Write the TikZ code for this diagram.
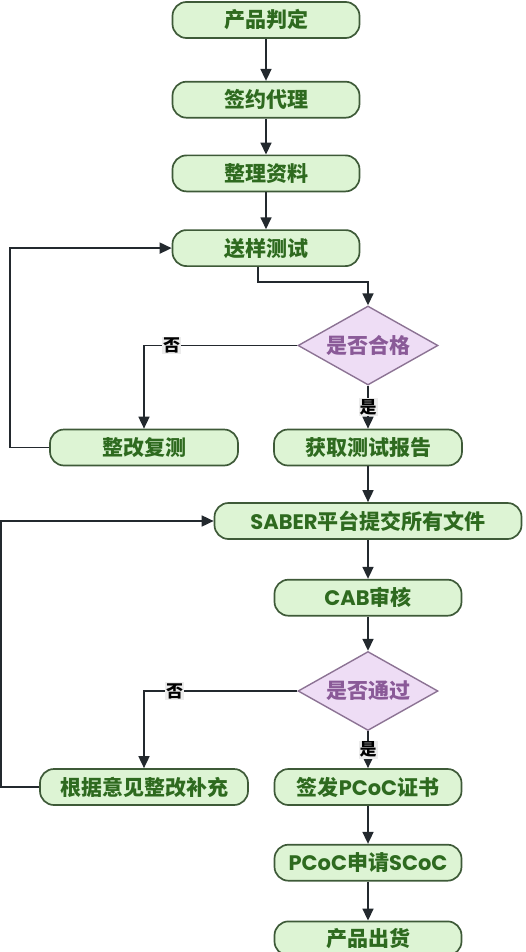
\documentclass[tikz,border=0pt]{standalone}
\usepackage{fontspec}
\usepackage{xcolor}
\usepackage{tikz}
\usetikzlibrary{positioning}
\usetikzlibrary{shapes.geometric}
\usetikzlibrary{arrows.meta}

\newfontfamily\cjk{Noto Sans CJK SC}
\newfontfamily\lat{Poppins}

\definecolor{boxfill}{HTML}{DDF4D4}
\definecolor{boxline}{HTML}{3E5A38}
\definecolor{boxtext}{HTML}{2E6A1F}
\definecolor{decfill}{HTML}{EEDDF5}
\definecolor{decline}{HTML}{8C7394}
\definecolor{dectext}{HTML}{8A5A98}
\definecolor{arrline}{HTML}{23292E}
\definecolor{tagfill}{HTML}{ECECEC}

\tikzset{
    stepbox/.style={draw=boxline, line width=1.7pt, fill=boxfill, rounded corners=14pt,
        minimum width=187pt, minimum height=36pt, inner sep=0pt,
        font=\cjk\bfseries\fontsize{21}{21}\selectfont, text=boxtext},
    decbox/.style={draw=decline, line width=1.4pt, fill=decfill, diamond, aspect=1.77,
        minimum width=140pt, minimum height=79pt, inner sep=0pt,
        font=\cjk\bfseries\fontsize{21}{21}\selectfont, text=dectext},
    arr/.style={->, draw=arrline, line width=1.7pt},
    tag/.style={fill=tagfill, inner sep=1pt, text=black,
        font=\cjk\bfseries\fontsize{17}{17}\selectfont}
}

\begin{document}
\begin{tikzpicture}[x=1pt, y=-1pt, >={Triangle[length=12pt,width=11pt]}]
        \useasboundingbox (0,0) rectangle (526,952);

        % 前期准备
        \node[stepbox] (prod) at (266,20) {产品判定};
        \node[stepbox, below=42pt of prod] (sign) {签约代理};
        \node[stepbox, below=36pt of sign] (data) {整理资料};
        \node[stepbox, below=37pt of data] (test) {送样测试};

        % 测试判定
        \node[decbox] (chk1) at (368,345.5) {是否合格};
        \node[stepbox, minimum width=188pt] (fix1) at (144,447.5) {整改复测};
        \node[stepbox, minimum width=188pt] (report) at (368,447.5) {获取测试报告};

        % 平台审核
        \node[stepbox, minimum width=307pt] (saber) at (368,521) {{\lat\bfseries SABER}平台提交所有文件};
        \node[stepbox, below=39pt of saber] (cab) {{\lat\bfseries CAB}审核};
        \node[decbox] (chk2) at (368,691) {是否通过};
        \node[stepbox, minimum width=208pt] (fix2) at (144,787) {根据意见整改补充};
        \node[stepbox] (cert) at (368,787) {签发{\lat\bfseries PCoC}证书};
        \node[stepbox, below=38pt of cert] (scoc) {{\lat\bfseries PCoC}申请{\lat\bfseries SCoC}};
        \node[stepbox, below=39pt of scoc, minimum height=34pt] (ship) {产品出货};

        % 主流程箭头
        \draw[arr] (prod) -- (sign);
        \draw[arr] (sign) -- (data);
        \draw[arr] (data) -- (test);
        \draw[arr] ([xshift=-8pt]test.south) |- (300,282) -| (chk1.north);

        % 合格判定分支
        \draw[arr] (chk1.west) -| node[tag, pos=0.41] {否} (fix1.north);
        \draw[arr] (chk1.south) -- node[tag] {是} (report.north);
        \draw[arr] (fix1.west) -- ++(-39,0) |- (test.west);
        \draw[arr] (report) -- (saber);

        % 审核判定分支
        \draw[arr] (saber) -- (cab);
        \draw[arr] (cab) -- (chk2.north);
        \draw[arr] (chk2.west) -| node[tag, pos=0.40] {否} (fix2.north);
        \draw[arr] (chk2.south) -- node[tag] {是} (cert.north);
        \draw[arr] (fix2.west) -- ++(-38,0) |- (saber.west);

        % 证书与出货
        \draw[arr] (cert) -- (scoc);
        \draw[arr] (scoc) -- (ship);

    \end{tikzpicture}
\end{document}
